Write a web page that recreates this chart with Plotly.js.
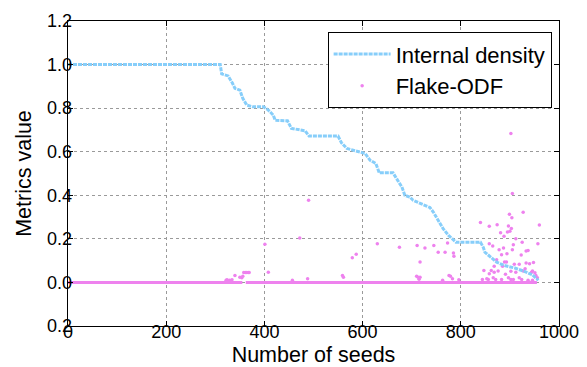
<!DOCTYPE html>
<html>
<head>
<meta charset="utf-8">
<script src="https://cdn.plot.ly/plotly-3.0.1.min.js"></script>
<style>
html,body{margin:0;padding:0;background:#fff;}
#chart{width:587px;height:367px;}
</style>
</head>
<body>
<div id="chart"></div>
<script>
// Internal density (step-like curve, vertices)
var densX = [0, 310, 313, 326, 335, 340, 350, 356, 364, 376, 398, 408, 418, 422, 447, 455, 483, 491, 550, 557, 568, 591, 605, 615, 627, 634, 662, 669, 680, 686, 696, 703, 717, 737, 744, 754, 764, 775, 783, 790, 840, 846, 849, 860, 873, 888, 910, 928, 945, 958];
var densY = [1.0, 1.0, 0.957, 0.948, 0.914, 0.891, 0.883, 0.845, 0.814, 0.806, 0.806, 0.791, 0.768, 0.744, 0.742, 0.707, 0.696, 0.672, 0.672, 0.641, 0.615, 0.600, 0.592, 0.561, 0.546, 0.503, 0.503, 0.477, 0.438, 0.400, 0.392, 0.377, 0.362, 0.344, 0.323, 0.285, 0.247, 0.216, 0.198, 0.185, 0.185, 0.160, 0.139, 0.116, 0.093, 0.078, 0.066, 0.052, 0.036, 0.010];

// Flake-ODF: the many seeds with value 0 (drawn as a band) ...
var odfZeroX = [0, 355, null, 362, 955];
var odfZeroY = [0, 0, null, 0, 0];
// ... and the non-zero values
var odfX = [322, 329, 324, 334, 340, 350, 354, 356, 358, 361, 364, 367, 369, 401, 408, 457, 472, 490, 488, 559, 561, 579, 587, 630, 675, 711, 710, 713, 717, 715, 717, 727, 745, 754, 768, 773, 763, 776, 779, 783, 785, 786, 796,
  840, 858, 874, 897, 903, 900, 895, 881, 888, 899, 904, 927, 960, 912, 925, 957, 858, 865, 887, 907, 878, 894, 883, 905, 923, 933, 937, 873, 889, 893, 909, 919, 933, 940, 948, 868, 885, 847, 862, 876, 858, 868, 891, 902, 912, 931, 927, 946, 951, 944, 953, 956, 853, 856, 844, 866, 871, 883, 897, 902, 907, 919, 924, 937, 946, 902, 905];
var odfY = [0.010, 0.010, 0.012, 0.012, 0.032, 0.024, 0.022, 0.028, 0.046, 0.046, 0.046, 0.046, 0.046, 0.175, 0.047, 0.010, 0.204, 0.377, 0.017, 0.032, 0.024, 0.113, 0.129, 0.178, 0.162, 0.169, 0.028, 0.024, 0.024, 0.015, 0.094, 0.158, 0.169, 0.139, 0.139, 0.181, 0.010, 0.032, 0.028, 0.017, 0.135, 0.120, 0.012,
  0.275, 0.258, 0.265, 0.259, 0.247, 0.235, 0.231, 0.228, 0.212, 0.313, 0.297, 0.322, 0.264, 0.200, 0.184, 0.178, 0.178, 0.167, 0.158, 0.173, 0.150, 0.132, 0.127, 0.150, 0.126, 0.144, 0.147, 0.104, 0.094, 0.094, 0.083, 0.083, 0.089, 0.086, 0.092, 0.074, 0.074, 0.055, 0.055, 0.052, 0.040, 0.047, 0.037, 0.051, 0.047, 0.063, 0.052, 0.052, 0.045, 0.047, 0.032, 0.022, 0.017, 0.014, 0.014, 0.022, 0.014, 0.014, 0.022, 0.014, 0.014, 0.022, 0.014, 0.010, 0.010, 0.684, 0.408];

var xRange = [0, 1000];
var yRange = [-0.2, 1.2];
var xTicks = [0, 200, 400, 600, 800, 1000];
var xTickText = ['0', '200', '400', '600', '800', '1000'];
var yTicks = [-0.2, 0.0, 0.2, 0.4, 0.6, 0.8, 1.0, 1.2];
var yTickText = ['0.2', '0.0', '0.2', '0.4', '0.6', '0.8', '1.0', '1.2'];

var FONT = 'Liberation Sans, Arial, sans-serif';
var BLUE = '#87CEFA';
var PINK = '#EE82EE';

var traces = [
  {
    x: odfZeroX, y: odfZeroY, xaxis: 'x2', yaxis: 'y2', mode: 'lines', type: 'scatter',
    line: {color: PINK, width: 3}, showlegend: false, hoverinfo: 'skip', connectgaps: false
  },
  {
    x: densX, y: densY, xaxis: 'x3', yaxis: 'y3', mode: 'lines', type: 'scatter', name: 'Internal density',
    line: {color: BLUE, width: 3, dash: '4px,1px'}
  },
  {
    x: odfX, y: odfY, mode: 'markers', type: 'scatter', name: 'Flake-ODF',
    marker: {color: PINK, size: 3.5, symbol: 'circle', line: {width: 0}}
  }
];

// frame, ticks and grid
var frameAxis = {
  showline: true, linecolor: '#000', linewidth: 1, mirror: 'allticks',
  ticks: 'inside', ticklen: 5, tickwidth: 1, tickcolor: '#000',
  showgrid: true, gridcolor: '#9a9a9a', gridwidth: 1, griddash: 'dot',
  zeroline: false, showticklabels: false, automargin: false
};
// tick labels (drawn close to the frame, like the reference)
var labelAxis = {
  showline: false, ticks: '', showgrid: false, zeroline: false,
  tickfont: {family: FONT, size: 18, color: '#000'}, automargin: false
};
// axis titles only
var titleAxis = {
  showline: false, ticks: '', showgrid: false, zeroline: false,
  showticklabels: false, automargin: false
};
var TITLEFONT = {family: FONT, size: 21.5, color: '#000'};

var layout = {
  width: 587, height: 367,
  margin: {l: 68, r: 28, t: 21, b: 41},
  paper_bgcolor: '#fff', plot_bgcolor: '#fff',
  font: {family: FONT, color: '#000'},
  showlegend: true,
  xaxis: Object.assign({}, frameAxis, {range: xRange, tickvals: xTicks}),
  yaxis: Object.assign({}, frameAxis, {range: yRange, tickvals: yTicks}),
  xaxis2: Object.assign({}, labelAxis, {
    overlaying: 'x', anchor: 'free', position: 0.023, side: 'bottom',
    range: xRange, tickvals: xTicks, ticktext: xTickText
  }),
  yaxis2: Object.assign({}, labelAxis, {
    overlaying: 'y', anchor: 'free', position: 0.008, side: 'left',
    range: yRange, tickvals: yTicks, ticktext: yTickText
  }),
  xaxis3: Object.assign({}, titleAxis, {
    overlaying: 'x', anchor: 'free', position: 0.043, side: 'bottom', range: xRange,
    title: {text: 'Number of seeds', font: TITLEFONT}
  }),
  yaxis3: Object.assign({}, titleAxis, {
    overlaying: 'y', anchor: 'free', position: 0.01, side: 'left', range: yRange,
    title: {text: 'Metrics value', font: TITLEFONT}
  }),
  legend: {
    x: 0.985, xanchor: 'right', y: 0.963, yanchor: 'top',
    bgcolor: '#fff', bordercolor: '#000', borderwidth: 1,
    font: {family: FONT, size: 22, color: '#000'},
    itemwidth: 57, traceorder: 'normal'
  }
};

Plotly.newPlot('chart', traces, layout, {displayModeBar: false, staticPlot: true});
</script>
</body>
</html>
